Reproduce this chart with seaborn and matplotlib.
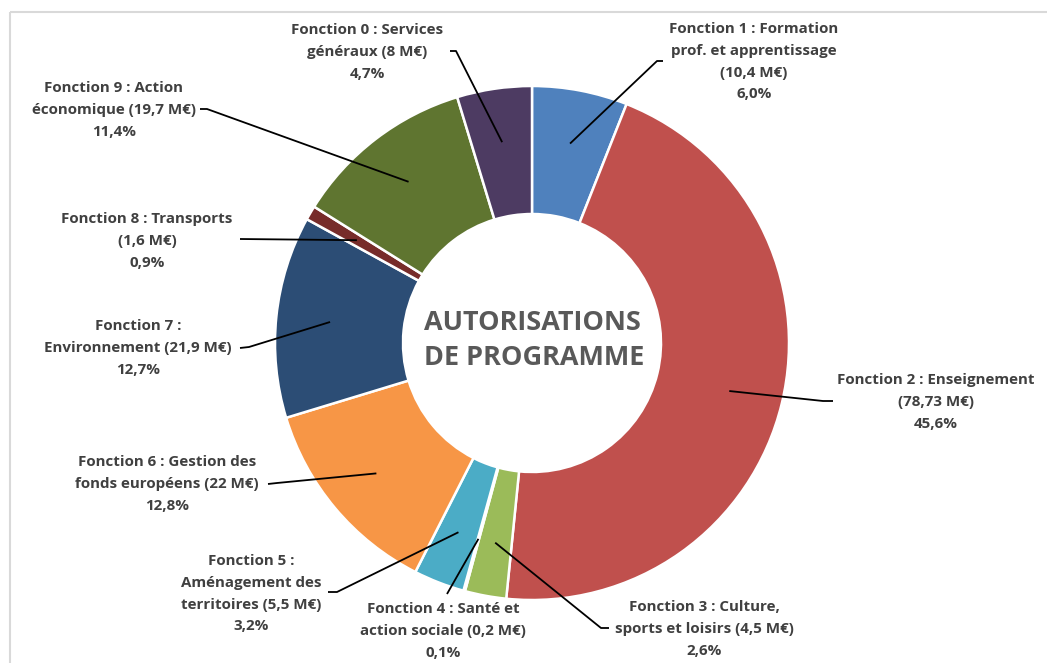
import numpy as np
import matplotlib
matplotlib.use("Agg")
import matplotlib.pyplot as plt
import seaborn as sns

# Programme authorisations by budget function, clockwise from 12 o'clock
functions = ["Fonction 1", "Fonction 2", "Fonction 3", "Fonction 4", "Fonction 5",
             "Fonction 6", "Fonction 7", "Fonction 8", "Fonction 9", "Fonction 0"]
shares = [6.0, 45.6, 2.6, 0.1, 3.2, 12.8, 12.7, 0.9, 11.4, 4.7]          # %
amounts = ["10,4", "78,73", "4,5", "0,2", "5,5", "22", "21,9", "1,6", "19,7", "8"]  # M€
titles = [
    "{f} : Formation\nprof. et apprentissage\n({a} M€)",
    "{f} : Enseignement\n({a} M€)",
    "{f} : Culture,\nsports et loisirs ({a} M€)",
    "{f} : Santé et\naction sociale ({a} M€)",
    "{f} :\nAménagement des\nterritoires ({a} M€)",
    "{f} : Gestion des\nfonds européens ({a} M€)",
    "{f} :\nEnvironnement ({a} M€)",
    "{f} : Transports\n({a} M€)",
    "{f} : Action\néconomique ({a} M€)",
    "{f} : Services\ngénéraux ({a} M€)",
]
colors = ["#4F81BD", "#C0504D", "#9BBB59", "#8064A2", "#4BACC6",
          "#F79646", "#2C4D75", "#772C2A", "#5F7530", "#4D3B62"]
center_title = ["AUTORISATIONS", "DE PROGRAMME"]

# ---- layout (pixel coordinates, origin top-left) ----
W, H = 1047, 663
CX, CY = 532, 343
R_OUT, R_IN = 257, 129
LINE_H = 21.8
# label block: centre x, first-line y
label_pos = [(754, 29), (936, 380), (704, 607), (443, 609), (251, 561),
             (167, 462), (138, 326), (147, 219), (114, 88), (367, 30)]
# leader anchor points next to each label (label end first)
leader_anchor = [
    [(663, 61), (657, 61)],
    [(833, 401), (823, 401)],
    [(609, 628), (601, 628)],
    [(447, 594)],
    [(328, 592), (337, 592)],
    [(268, 484), (277, 483)],
    [(240, 348), (249, 347)],
    [(240, 239)],
    [(200, 109), (207, 109)],
    [(450, 51), (456, 51)],
]

sns.set_theme(style="white")
plt.rcParams["font.family"] = ["Open Sans", "DejaVu Sans"]

fig = plt.figure(figsize=(W / 100, H / 100), dpi=100)
fig.patch.set_facecolor("white")
ax = fig.add_axes([0, 0, 1, 1])

palette = sns.color_palette(colors)
wedges, _ = ax.pie(shares, colors=palette, startangle=90, counterclock=False,
                   center=(CX, H - CY), radius=R_OUT,
                   wedgeprops=dict(width=R_OUT - R_IN, edgecolor="white", linewidth=1.8))
ax.set_xlim(0, W)
ax.set_ylim(0, H)
ax.set_aspect("equal")
ax.axis("off")

renderer = fig.canvas.get_renderer()


def fitted_size(text, target_px, **kw):
    t = fig.text(0, 0, text, fontsize=10, **kw)
    w = t.get_window_extent(renderer).width
    t.remove()
    return 10 * target_px / w


TXT = "#404040"
lab_size = fitted_size("Fonction 2 : Enseignement", 198, fontweight="bold")
ctr_size = fitted_size(center_title[0], 216, fontweight="bold")

# chart frame
ax.plot([10, W], [H - 12, H - 12], color="#d9d9d9", lw=1.5, solid_capstyle="butt")
ax.plot([10, 10], [H - 12, 0], color="#d9d9d9", lw=1.5, solid_capstyle="butt")

# data labels and leader lines
r_lead = 0.79 * R_OUT
for i, w in enumerate(wedges):
    text = titles[i].format(f=functions[i], a=amounts[i])
    lines = text.split("\n") + [f"{shares[i]:.1f}".replace(".", ",") + "%"]
    lx, ly = label_pos[i]
    for k, line in enumerate(lines):
        ax.text(lx, H - (ly + k * LINE_H), line, ha="center", va="center",
                fontsize=lab_size, fontweight="bold", color=TXT)
    mid = np.deg2rad((w.theta1 + w.theta2) / 2)
    px = CX + r_lead * np.cos(mid)
    py = (H - CY) + r_lead * np.sin(mid)
    xs = [p[0] for p in leader_anchor[i]] + [px]
    ys = [H - p[1] for p in leader_anchor[i]] + [py]
    ax.plot(xs, ys, color="black", lw=1.3, solid_capstyle="butt")

# centre title
ax.text(532, H - 323, center_title[0], ha="center", va="center",
        fontsize=ctr_size, fontweight="bold", color="#595959")
ax.text(534, H - 358, center_title[1], ha="center", va="center",
        fontsize=ctr_size, fontweight="bold", color="#595959")

fig.savefig("out.png", dpi=100, facecolor="white")
